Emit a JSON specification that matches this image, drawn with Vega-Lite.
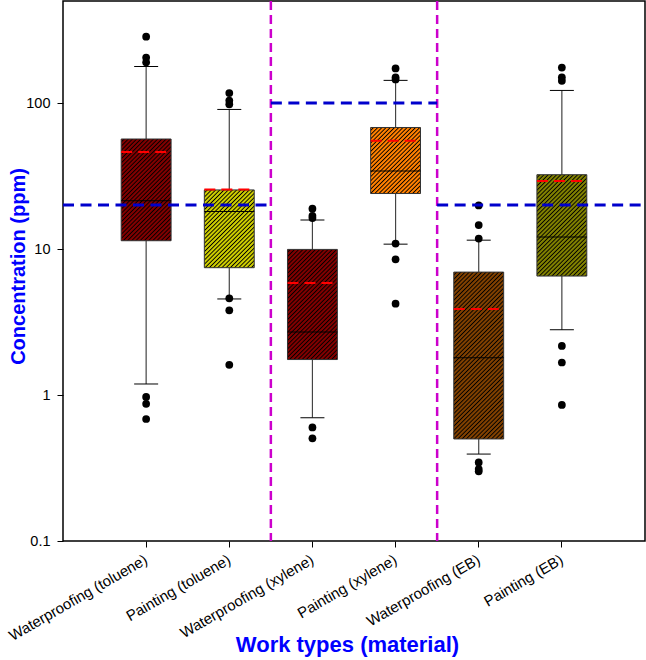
{
  "$schema": "https://vega.github.io/schema/vega-lite/v6.json",
  "width": 582,
  "height": 540,
  "autosize": {"type": "none"},
  "padding": {"left": 63, "top": 1, "right": 1, "bottom": 119},
  "background": "white",
  "config": {
    "font": "Liberation Sans",
    "view": {"stroke": "#000000", "strokeWidth": 1.5}
  },
  "datasets": {
    "boxes": [
      {"work": "Waterproofing (toluene)", "lower": 1.19, "q1": 11.4, "median": 21.4, "q3": 56.7, "upper": 178, "mean": 46.2},
      {"work": "Painting (toluene)", "lower": 4.55, "q1": 7.45, "median": 18.1, "q3": 25.4, "upper": 90.4, "mean": 25.6},
      {"work": "Waterproofing (xylene)", "lower": 0.70, "q1": 1.75, "median": 2.7, "q3": 9.94, "upper": 15.8, "mean": 5.85},
      {"work": "Painting (xylene)", "lower": 10.8, "q1": 24.0, "median": 34.2, "q3": 68, "upper": 143, "mean": 55.2},
      {"work": "Waterproofing (EB)", "lower": 0.394, "q1": 0.50, "median": 1.80, "q3": 6.95, "upper": 11.5, "mean": 3.88},
      {"work": "Painting (EB)", "lower": 2.80, "q1": 6.53, "median": 12.1, "q3": 32.3, "upper": 122, "mean": 29.2}
    ],
    "outliers": [
      {"work": "Waterproofing (toluene)", "value": 285},
      {"work": "Waterproofing (toluene)", "value": 205},
      {"work": "Waterproofing (toluene)", "value": 190},
      {"work": "Waterproofing (toluene)", "value": 0.97},
      {"work": "Waterproofing (toluene)", "value": 0.87},
      {"work": "Waterproofing (toluene)", "value": 0.685},
      {"work": "Painting (toluene)", "value": 117},
      {"work": "Painting (toluene)", "value": 104},
      {"work": "Painting (toluene)", "value": 98},
      {"work": "Painting (toluene)", "value": 4.6},
      {"work": "Painting (toluene)", "value": 3.8},
      {"work": "Painting (toluene)", "value": 1.61},
      {"work": "Waterproofing (xylene)", "value": 18.9},
      {"work": "Waterproofing (xylene)", "value": 16.9},
      {"work": "Waterproofing (xylene)", "value": 16.3},
      {"work": "Waterproofing (xylene)", "value": 0.60},
      {"work": "Waterproofing (xylene)", "value": 0.505},
      {"work": "Painting (xylene)", "value": 172.5},
      {"work": "Painting (xylene)", "value": 150},
      {"work": "Painting (xylene)", "value": 145},
      {"work": "Painting (xylene)", "value": 10.9},
      {"work": "Painting (xylene)", "value": 8.5},
      {"work": "Painting (xylene)", "value": 4.22},
      {"work": "Waterproofing (EB)", "value": 19.9},
      {"work": "Waterproofing (EB)", "value": 14.6},
      {"work": "Waterproofing (EB)", "value": 11.8},
      {"work": "Waterproofing (EB)", "value": 0.345},
      {"work": "Waterproofing (EB)", "value": 0.311},
      {"work": "Waterproofing (EB)", "value": 0.30},
      {"work": "Painting (EB)", "value": 175},
      {"work": "Painting (EB)", "value": 150},
      {"work": "Painting (EB)", "value": 142},
      {"work": "Painting (EB)", "value": 2.17},
      {"work": "Painting (EB)", "value": 1.67},
      {"work": "Painting (EB)", "value": 0.855}
    ],
    "dividers": [
      {"work": "Painting (toluene)"},
      {"work": "Painting (xylene)"}
    ]
  },
  "layer": [
    {
      "data": {"name": "boxes"},
      "mark": {"type": "rule", "color": "#444444", "strokeWidth": 1.2},
      "encoding": {
        "x": {
          "field": "work", "type": "nominal", "sort": null,
          "scale": {"domain": ["Waterproofing (toluene)", "Painting (toluene)", "Waterproofing (xylene)", "Painting (xylene)", "Waterproofing (EB)", "Painting (EB)"], "paddingInner": 0, "paddingOuter": 0.5},
          "axis": {
            "title": "Work types (material)",
            "titleFontSize": 22, "titleFontWeight": "bold", "titleColor": "#0000FF",
            "titleX": 284, "titleY": 93, "titleBaseline": "top",
            "labelAngle": -30, "labelAlign": "right", "labelBaseline": "middle",
            "labelFontSize": 15, "labelColor": "#000000", "labelPadding": 11,
            "tickSize": 6, "tickColor": "#000000", "tickWidth": 1,
            "domain": false, "grid": false
          }
        },
        "y": {
          "field": "lower", "type": "quantitative",
          "scale": {"type": "log", "domain": [0.1, 500], "nice": false, "zero": false},
          "axis": {
            "title": "Concentration (ppm)",
            "titleFontSize": 20, "titleFontWeight": "bold", "titleColor": "#0000FF",
            "titleX": -35, "titleY": 265,
            "values": [0.1, 1, 10, 100], "format": "~g",
            "labelFontSize": 14.5, "labelColor": "#000000", "labelPadding": 7,
            "tickSize": 6, "tickColor": "#000000", "tickWidth": 1,
            "domain": false, "grid": false
          }
        },
        "y2": {"field": "upper"}
      }
    },
    {
      "data": {"name": "boxes"},
      "mark": {"type": "tick", "color": "#000000", "size": 24, "thickness": 1, "opacity": 1},
      "encoding": {
        "x": {"field": "work", "type": "nominal"},
        "y": {"field": "upper", "type": "quantitative"}
      }
    },
    {
      "data": {"name": "boxes"},
      "mark": {"type": "tick", "color": "#000000", "size": 24, "thickness": 1, "opacity": 1},
      "encoding": {
        "x": {"field": "work", "type": "nominal"},
        "y": {"field": "lower", "type": "quantitative"}
      }
    },
    {
      "data": {"name": "boxes"},
      "transform": [{"filter": "datum.work === 'Waterproofing (toluene)'"}],
      "mark": {"type": "bar", "width": {"band": 0.6}, "stroke": "#333333", "strokeWidth": 1,
        "fill": {"gradient": "linear", "x1": 0, "y1": 0, "x2": 0.84894, "y2": 1.73086, "stops": [
          {"offset":0,"color":"#800000"},{"offset":0.00769,"color":"#800000"},{"offset":0.01346,"color":"#000"},
          {"offset":0.01923,"color":"#800000"},{"offset":0.02692,"color":"#800000"},{"offset":0.03269,"color":"#000"},
          {"offset":0.03846,"color":"#800000"},{"offset":0.04615,"color":"#800000"},{"offset":0.05192,"color":"#000"},
          {"offset":0.05769,"color":"#800000"},{"offset":0.06538,"color":"#800000"},{"offset":0.07115,"color":"#000"},
          {"offset":0.07692,"color":"#800000"},{"offset":0.08462,"color":"#800000"},{"offset":0.09038,"color":"#000"},
          {"offset":0.09615,"color":"#800000"},{"offset":0.10385,"color":"#800000"},{"offset":0.10962,"color":"#000"},
          {"offset":0.11538,"color":"#800000"},{"offset":0.12308,"color":"#800000"},{"offset":0.12885,"color":"#000"},
          {"offset":0.13462,"color":"#800000"},{"offset":0.14231,"color":"#800000"},{"offset":0.14808,"color":"#000"},
          {"offset":0.15385,"color":"#800000"},{"offset":0.16154,"color":"#800000"},{"offset":0.16731,"color":"#000"},
          {"offset":0.17308,"color":"#800000"},{"offset":0.18077,"color":"#800000"},{"offset":0.18654,"color":"#000"},
          {"offset":0.19231,"color":"#800000"},{"offset":0.2,"color":"#800000"},{"offset":0.20577,"color":"#000"},
          {"offset":0.21154,"color":"#800000"},{"offset":0.21923,"color":"#800000"},{"offset":0.225,"color":"#000"},
          {"offset":0.23077,"color":"#800000"},{"offset":0.23846,"color":"#800000"},{"offset":0.24423,"color":"#000"},
          {"offset":0.25,"color":"#800000"},{"offset":0.25769,"color":"#800000"},{"offset":0.26346,"color":"#000"},
          {"offset":0.26923,"color":"#800000"},{"offset":0.27692,"color":"#800000"},{"offset":0.28269,"color":"#000"},
          {"offset":0.28846,"color":"#800000"},{"offset":0.29615,"color":"#800000"},{"offset":0.30192,"color":"#000"},
          {"offset":0.30769,"color":"#800000"},{"offset":0.31538,"color":"#800000"},{"offset":0.32115,"color":"#000"},
          {"offset":0.32692,"color":"#800000"},{"offset":0.33462,"color":"#800000"},{"offset":0.34038,"color":"#000"},
          {"offset":0.34615,"color":"#800000"},{"offset":0.35385,"color":"#800000"},{"offset":0.35962,"color":"#000"},
          {"offset":0.36538,"color":"#800000"},{"offset":0.37308,"color":"#800000"},{"offset":0.37885,"color":"#000"},
          {"offset":0.38462,"color":"#800000"},{"offset":0.39231,"color":"#800000"},{"offset":0.39808,"color":"#000"},
          {"offset":0.40385,"color":"#800000"},{"offset":0.41154,"color":"#800000"},{"offset":0.41731,"color":"#000"},
          {"offset":0.42308,"color":"#800000"},{"offset":0.43077,"color":"#800000"},{"offset":0.43654,"color":"#000"},
          {"offset":0.44231,"color":"#800000"},{"offset":0.45,"color":"#800000"},{"offset":0.45577,"color":"#000"},
          {"offset":0.46154,"color":"#800000"},{"offset":0.46923,"color":"#800000"},{"offset":0.475,"color":"#000"},
          {"offset":0.48077,"color":"#800000"},{"offset":0.48846,"color":"#800000"},{"offset":0.49423,"color":"#000"},
          {"offset":0.5,"color":"#800000"},{"offset":0.50769,"color":"#800000"},{"offset":0.51346,"color":"#000"},
          {"offset":0.51923,"color":"#800000"},{"offset":0.52692,"color":"#800000"},{"offset":0.53269,"color":"#000"},
          {"offset":0.53846,"color":"#800000"},{"offset":0.54615,"color":"#800000"},{"offset":0.55192,"color":"#000"},
          {"offset":0.55769,"color":"#800000"},{"offset":0.56538,"color":"#800000"},{"offset":0.57115,"color":"#000"},
          {"offset":0.57692,"color":"#800000"},{"offset":0.58462,"color":"#800000"},{"offset":0.59038,"color":"#000"},
          {"offset":0.59615,"color":"#800000"},{"offset":0.60385,"color":"#800000"},{"offset":0.60962,"color":"#000"},
          {"offset":0.61538,"color":"#800000"},{"offset":0.62308,"color":"#800000"},{"offset":0.62885,"color":"#000"},
          {"offset":0.63462,"color":"#800000"},{"offset":0.64231,"color":"#800000"},{"offset":0.64808,"color":"#000"},
          {"offset":0.65385,"color":"#800000"},{"offset":0.66154,"color":"#800000"},{"offset":0.66731,"color":"#000"},
          {"offset":0.67308,"color":"#800000"},{"offset":0.68077,"color":"#800000"},{"offset":0.68654,"color":"#000"},
          {"offset":0.69231,"color":"#800000"},{"offset":0.7,"color":"#800000"},{"offset":0.70577,"color":"#000"},
          {"offset":0.71154,"color":"#800000"}
        ]}
      },
      "encoding": {
        "x": {"field": "work", "type": "nominal"},
        "y": {"field": "q1", "type": "quantitative"},
        "y2": {"field": "q3"}
      }
    },
    {
      "data": {"name": "boxes"},
      "transform": [{"filter": "datum.work === 'Painting (toluene)'"}],
      "mark": {"type": "bar", "width": {"band": 0.6}, "stroke": "#333333", "strokeWidth": 1,
        "fill": {"gradient": "linear", "x1": 0, "y1": 0, "x2": 1.27645, "y2": 1.98967, "stops": [
          {"offset":0,"color":"#CCCC00"},{"offset":0.00769,"color":"#CCCC00"},{"offset":0.01346,"color":"#000"},
          {"offset":0.01923,"color":"#CCCC00"},{"offset":0.02692,"color":"#CCCC00"},{"offset":0.03269,"color":"#000"},
          {"offset":0.03846,"color":"#CCCC00"},{"offset":0.04615,"color":"#CCCC00"},{"offset":0.05192,"color":"#000"},
          {"offset":0.05769,"color":"#CCCC00"},{"offset":0.06538,"color":"#CCCC00"},{"offset":0.07115,"color":"#000"},
          {"offset":0.07692,"color":"#CCCC00"},{"offset":0.08462,"color":"#CCCC00"},{"offset":0.09038,"color":"#000"},
          {"offset":0.09615,"color":"#CCCC00"},{"offset":0.10385,"color":"#CCCC00"},{"offset":0.10962,"color":"#000"},
          {"offset":0.11538,"color":"#CCCC00"},{"offset":0.12308,"color":"#CCCC00"},{"offset":0.12885,"color":"#000"},
          {"offset":0.13462,"color":"#CCCC00"},{"offset":0.14231,"color":"#CCCC00"},{"offset":0.14808,"color":"#000"},
          {"offset":0.15385,"color":"#CCCC00"},{"offset":0.16154,"color":"#CCCC00"},{"offset":0.16731,"color":"#000"},
          {"offset":0.17308,"color":"#CCCC00"},{"offset":0.18077,"color":"#CCCC00"},{"offset":0.18654,"color":"#000"},
          {"offset":0.19231,"color":"#CCCC00"},{"offset":0.2,"color":"#CCCC00"},{"offset":0.20577,"color":"#000"},
          {"offset":0.21154,"color":"#CCCC00"},{"offset":0.21923,"color":"#CCCC00"},{"offset":0.225,"color":"#000"},
          {"offset":0.23077,"color":"#CCCC00"},{"offset":0.23846,"color":"#CCCC00"},{"offset":0.24423,"color":"#000"},
          {"offset":0.25,"color":"#CCCC00"},{"offset":0.25769,"color":"#CCCC00"},{"offset":0.26346,"color":"#000"},
          {"offset":0.26923,"color":"#CCCC00"},{"offset":0.27692,"color":"#CCCC00"},{"offset":0.28269,"color":"#000"},
          {"offset":0.28846,"color":"#CCCC00"},{"offset":0.29615,"color":"#CCCC00"},{"offset":0.30192,"color":"#000"},
          {"offset":0.30769,"color":"#CCCC00"},{"offset":0.31538,"color":"#CCCC00"},{"offset":0.32115,"color":"#000"},
          {"offset":0.32692,"color":"#CCCC00"},{"offset":0.33462,"color":"#CCCC00"},{"offset":0.34038,"color":"#000"},
          {"offset":0.34615,"color":"#CCCC00"},{"offset":0.35385,"color":"#CCCC00"},{"offset":0.35962,"color":"#000"},
          {"offset":0.36538,"color":"#CCCC00"},{"offset":0.37308,"color":"#CCCC00"},{"offset":0.37885,"color":"#000"},
          {"offset":0.38462,"color":"#CCCC00"},{"offset":0.39231,"color":"#CCCC00"},{"offset":0.39808,"color":"#000"},
          {"offset":0.40385,"color":"#CCCC00"},{"offset":0.41154,"color":"#CCCC00"},{"offset":0.41731,"color":"#000"},
          {"offset":0.42308,"color":"#CCCC00"},{"offset":0.43077,"color":"#CCCC00"},{"offset":0.43654,"color":"#000"},
          {"offset":0.44231,"color":"#CCCC00"},{"offset":0.45,"color":"#CCCC00"},{"offset":0.45577,"color":"#000"},
          {"offset":0.46154,"color":"#CCCC00"},{"offset":0.46923,"color":"#CCCC00"},{"offset":0.475,"color":"#000"},
          {"offset":0.48077,"color":"#CCCC00"},{"offset":0.48846,"color":"#CCCC00"},{"offset":0.49423,"color":"#000"},
          {"offset":0.5,"color":"#CCCC00"},{"offset":0.50769,"color":"#CCCC00"},{"offset":0.51346,"color":"#000"},
          {"offset":0.51923,"color":"#CCCC00"},{"offset":0.52692,"color":"#CCCC00"},{"offset":0.53269,"color":"#000"},
          {"offset":0.53846,"color":"#CCCC00"},{"offset":0.54615,"color":"#CCCC00"},{"offset":0.55192,"color":"#000"},
          {"offset":0.55769,"color":"#CCCC00"},{"offset":0.56538,"color":"#CCCC00"},{"offset":0.57115,"color":"#000"},
          {"offset":0.57692,"color":"#CCCC00"},{"offset":0.58462,"color":"#CCCC00"},{"offset":0.59038,"color":"#000"},
          {"offset":0.59615,"color":"#CCCC00"}
        ]}
      },
      "encoding": {
        "x": {"field": "work", "type": "nominal"},
        "y": {"field": "q1", "type": "quantitative"},
        "y2": {"field": "q3"}
      }
    },
    {
      "data": {"name": "boxes"},
      "transform": [{"filter": "datum.work === 'Waterproofing (xylene)'"}],
      "mark": {"type": "bar", "width": {"band": 0.6}, "stroke": "#333333", "strokeWidth": 1,
        "fill": {"gradient": "linear", "x1": 0, "y1": 0, "x2": 0.74546, "y2": 1.64555, "stops": [
          {"offset":0,"color":"#800000"},{"offset":0.00769,"color":"#800000"},{"offset":0.01346,"color":"#000"},
          {"offset":0.01923,"color":"#800000"},{"offset":0.02692,"color":"#800000"},{"offset":0.03269,"color":"#000"},
          {"offset":0.03846,"color":"#800000"},{"offset":0.04615,"color":"#800000"},{"offset":0.05192,"color":"#000"},
          {"offset":0.05769,"color":"#800000"},{"offset":0.06538,"color":"#800000"},{"offset":0.07115,"color":"#000"},
          {"offset":0.07692,"color":"#800000"},{"offset":0.08462,"color":"#800000"},{"offset":0.09038,"color":"#000"},
          {"offset":0.09615,"color":"#800000"},{"offset":0.10385,"color":"#800000"},{"offset":0.10962,"color":"#000"},
          {"offset":0.11538,"color":"#800000"},{"offset":0.12308,"color":"#800000"},{"offset":0.12885,"color":"#000"},
          {"offset":0.13462,"color":"#800000"},{"offset":0.14231,"color":"#800000"},{"offset":0.14808,"color":"#000"},
          {"offset":0.15385,"color":"#800000"},{"offset":0.16154,"color":"#800000"},{"offset":0.16731,"color":"#000"},
          {"offset":0.17308,"color":"#800000"},{"offset":0.18077,"color":"#800000"},{"offset":0.18654,"color":"#000"},
          {"offset":0.19231,"color":"#800000"},{"offset":0.2,"color":"#800000"},{"offset":0.20577,"color":"#000"},
          {"offset":0.21154,"color":"#800000"},{"offset":0.21923,"color":"#800000"},{"offset":0.225,"color":"#000"},
          {"offset":0.23077,"color":"#800000"},{"offset":0.23846,"color":"#800000"},{"offset":0.24423,"color":"#000"},
          {"offset":0.25,"color":"#800000"},{"offset":0.25769,"color":"#800000"},{"offset":0.26346,"color":"#000"},
          {"offset":0.26923,"color":"#800000"},{"offset":0.27692,"color":"#800000"},{"offset":0.28269,"color":"#000"},
          {"offset":0.28846,"color":"#800000"},{"offset":0.29615,"color":"#800000"},{"offset":0.30192,"color":"#000"},
          {"offset":0.30769,"color":"#800000"},{"offset":0.31538,"color":"#800000"},{"offset":0.32115,"color":"#000"},
          {"offset":0.32692,"color":"#800000"},{"offset":0.33462,"color":"#800000"},{"offset":0.34038,"color":"#000"},
          {"offset":0.34615,"color":"#800000"},{"offset":0.35385,"color":"#800000"},{"offset":0.35962,"color":"#000"},
          {"offset":0.36538,"color":"#800000"},{"offset":0.37308,"color":"#800000"},{"offset":0.37885,"color":"#000"},
          {"offset":0.38462,"color":"#800000"},{"offset":0.39231,"color":"#800000"},{"offset":0.39808,"color":"#000"},
          {"offset":0.40385,"color":"#800000"},{"offset":0.41154,"color":"#800000"},{"offset":0.41731,"color":"#000"},
          {"offset":0.42308,"color":"#800000"},{"offset":0.43077,"color":"#800000"},{"offset":0.43654,"color":"#000"},
          {"offset":0.44231,"color":"#800000"},{"offset":0.45,"color":"#800000"},{"offset":0.45577,"color":"#000"},
          {"offset":0.46154,"color":"#800000"},{"offset":0.46923,"color":"#800000"},{"offset":0.475,"color":"#000"},
          {"offset":0.48077,"color":"#800000"},{"offset":0.48846,"color":"#800000"},{"offset":0.49423,"color":"#000"},
          {"offset":0.5,"color":"#800000"},{"offset":0.50769,"color":"#800000"},{"offset":0.51346,"color":"#000"},
          {"offset":0.51923,"color":"#800000"},{"offset":0.52692,"color":"#800000"},{"offset":0.53269,"color":"#000"},
          {"offset":0.53846,"color":"#800000"},{"offset":0.54615,"color":"#800000"},{"offset":0.55192,"color":"#000"},
          {"offset":0.55769,"color":"#800000"},{"offset":0.56538,"color":"#800000"},{"offset":0.57115,"color":"#000"},
          {"offset":0.57692,"color":"#800000"},{"offset":0.58462,"color":"#800000"},{"offset":0.59038,"color":"#000"},
          {"offset":0.59615,"color":"#800000"},{"offset":0.60385,"color":"#800000"},{"offset":0.60962,"color":"#000"},
          {"offset":0.61538,"color":"#800000"},{"offset":0.62308,"color":"#800000"},{"offset":0.62885,"color":"#000"},
          {"offset":0.63462,"color":"#800000"},{"offset":0.64231,"color":"#800000"},{"offset":0.64808,"color":"#000"},
          {"offset":0.65385,"color":"#800000"},{"offset":0.66154,"color":"#800000"},{"offset":0.66731,"color":"#000"},
          {"offset":0.67308,"color":"#800000"},{"offset":0.68077,"color":"#800000"},{"offset":0.68654,"color":"#000"},
          {"offset":0.69231,"color":"#800000"},{"offset":0.7,"color":"#800000"},{"offset":0.70577,"color":"#000"},
          {"offset":0.71154,"color":"#800000"},{"offset":0.71923,"color":"#800000"},{"offset":0.725,"color":"#000"},
          {"offset":0.73077,"color":"#800000"},{"offset":0.73846,"color":"#800000"},{"offset":0.74423,"color":"#000"},
          {"offset":0.75,"color":"#800000"}
        ]}
      },
      "encoding": {
        "x": {"field": "work", "type": "nominal"},
        "y": {"field": "q1", "type": "quantitative"},
        "y2": {"field": "q3"}
      }
    },
    {
      "data": {"name": "boxes"},
      "transform": [{"filter": "datum.work === 'Painting (xylene)'"}],
      "mark": {"type": "bar", "width": {"band": 0.6}, "stroke": "#333333", "strokeWidth": 1,
        "fill": {"gradient": "linear", "x1": 0, "y1": 0, "x2": 1.59078, "y2": 2.10559, "stops": [
          {"offset":0,"color":"#FF8000"},{"offset":0.00769,"color":"#FF8000"},{"offset":0.01346,"color":"#000"},
          {"offset":0.01923,"color":"#FF8000"},{"offset":0.02692,"color":"#FF8000"},{"offset":0.03269,"color":"#000"},
          {"offset":0.03846,"color":"#FF8000"},{"offset":0.04615,"color":"#FF8000"},{"offset":0.05192,"color":"#000"},
          {"offset":0.05769,"color":"#FF8000"},{"offset":0.06538,"color":"#FF8000"},{"offset":0.07115,"color":"#000"},
          {"offset":0.07692,"color":"#FF8000"},{"offset":0.08462,"color":"#FF8000"},{"offset":0.09038,"color":"#000"},
          {"offset":0.09615,"color":"#FF8000"},{"offset":0.10385,"color":"#FF8000"},{"offset":0.10962,"color":"#000"},
          {"offset":0.11538,"color":"#FF8000"},{"offset":0.12308,"color":"#FF8000"},{"offset":0.12885,"color":"#000"},
          {"offset":0.13462,"color":"#FF8000"},{"offset":0.14231,"color":"#FF8000"},{"offset":0.14808,"color":"#000"},
          {"offset":0.15385,"color":"#FF8000"},{"offset":0.16154,"color":"#FF8000"},{"offset":0.16731,"color":"#000"},
          {"offset":0.17308,"color":"#FF8000"},{"offset":0.18077,"color":"#FF8000"},{"offset":0.18654,"color":"#000"},
          {"offset":0.19231,"color":"#FF8000"},{"offset":0.2,"color":"#FF8000"},{"offset":0.20577,"color":"#000"},
          {"offset":0.21154,"color":"#FF8000"},{"offset":0.21923,"color":"#FF8000"},{"offset":0.225,"color":"#000"},
          {"offset":0.23077,"color":"#FF8000"},{"offset":0.23846,"color":"#FF8000"},{"offset":0.24423,"color":"#000"},
          {"offset":0.25,"color":"#FF8000"},{"offset":0.25769,"color":"#FF8000"},{"offset":0.26346,"color":"#000"},
          {"offset":0.26923,"color":"#FF8000"},{"offset":0.27692,"color":"#FF8000"},{"offset":0.28269,"color":"#000"},
          {"offset":0.28846,"color":"#FF8000"},{"offset":0.29615,"color":"#FF8000"},{"offset":0.30192,"color":"#000"},
          {"offset":0.30769,"color":"#FF8000"},{"offset":0.31538,"color":"#FF8000"},{"offset":0.32115,"color":"#000"},
          {"offset":0.32692,"color":"#FF8000"},{"offset":0.33462,"color":"#FF8000"},{"offset":0.34038,"color":"#000"},
          {"offset":0.34615,"color":"#FF8000"},{"offset":0.35385,"color":"#FF8000"},{"offset":0.35962,"color":"#000"},
          {"offset":0.36538,"color":"#FF8000"},{"offset":0.37308,"color":"#FF8000"},{"offset":0.37885,"color":"#000"},
          {"offset":0.38462,"color":"#FF8000"},{"offset":0.39231,"color":"#FF8000"},{"offset":0.39808,"color":"#000"},
          {"offset":0.40385,"color":"#FF8000"},{"offset":0.41154,"color":"#FF8000"},{"offset":0.41731,"color":"#000"},
          {"offset":0.42308,"color":"#FF8000"},{"offset":0.43077,"color":"#FF8000"},{"offset":0.43654,"color":"#000"},
          {"offset":0.44231,"color":"#FF8000"},{"offset":0.45,"color":"#FF8000"},{"offset":0.45577,"color":"#000"},
          {"offset":0.46154,"color":"#FF8000"},{"offset":0.46923,"color":"#FF8000"},{"offset":0.475,"color":"#000"},
          {"offset":0.48077,"color":"#FF8000"},{"offset":0.48846,"color":"#FF8000"},{"offset":0.49423,"color":"#000"},
          {"offset":0.5,"color":"#FF8000"},{"offset":0.50769,"color":"#FF8000"},{"offset":0.51346,"color":"#000"},
          {"offset":0.51923,"color":"#FF8000"},{"offset":0.52692,"color":"#FF8000"},{"offset":0.53269,"color":"#000"},
          {"offset":0.53846,"color":"#FF8000"}
        ]}
      },
      "encoding": {
        "x": {"field": "work", "type": "nominal"},
        "y": {"field": "q1", "type": "quantitative"},
        "y2": {"field": "q3"}
      }
    },
    {
      "data": {"name": "boxes"},
      "transform": [{"filter": "datum.work === 'Waterproofing (EB)'"}],
      "mark": {"type": "bar", "width": {"band": 0.6}, "stroke": "#333333", "strokeWidth": 1,
        "fill": {"gradient": "linear", "x1": 0, "y1": 0, "x2": 0.35920, "y2": 1.20148, "stops": [
          {"offset":0,"color":"#804000"},{"offset":0.00769,"color":"#804000"},{"offset":0.01346,"color":"#000"},
          {"offset":0.01923,"color":"#804000"},{"offset":0.02692,"color":"#804000"},{"offset":0.03269,"color":"#000"},
          {"offset":0.03846,"color":"#804000"},{"offset":0.04615,"color":"#804000"},{"offset":0.05192,"color":"#000"},
          {"offset":0.05769,"color":"#804000"},{"offset":0.06538,"color":"#804000"},{"offset":0.07115,"color":"#000"},
          {"offset":0.07692,"color":"#804000"},{"offset":0.08462,"color":"#804000"},{"offset":0.09038,"color":"#000"},
          {"offset":0.09615,"color":"#804000"},{"offset":0.10385,"color":"#804000"},{"offset":0.10962,"color":"#000"},
          {"offset":0.11538,"color":"#804000"},{"offset":0.12308,"color":"#804000"},{"offset":0.12885,"color":"#000"},
          {"offset":0.13462,"color":"#804000"},{"offset":0.14231,"color":"#804000"},{"offset":0.14808,"color":"#000"},
          {"offset":0.15385,"color":"#804000"},{"offset":0.16154,"color":"#804000"},{"offset":0.16731,"color":"#000"},
          {"offset":0.17308,"color":"#804000"},{"offset":0.18077,"color":"#804000"},{"offset":0.18654,"color":"#000"},
          {"offset":0.19231,"color":"#804000"},{"offset":0.2,"color":"#804000"},{"offset":0.20577,"color":"#000"},
          {"offset":0.21154,"color":"#804000"},{"offset":0.21923,"color":"#804000"},{"offset":0.225,"color":"#000"},
          {"offset":0.23077,"color":"#804000"},{"offset":0.23846,"color":"#804000"},{"offset":0.24423,"color":"#000"},
          {"offset":0.25,"color":"#804000"},{"offset":0.25769,"color":"#804000"},{"offset":0.26346,"color":"#000"},
          {"offset":0.26923,"color":"#804000"},{"offset":0.27692,"color":"#804000"},{"offset":0.28269,"color":"#000"},
          {"offset":0.28846,"color":"#804000"},{"offset":0.29615,"color":"#804000"},{"offset":0.30192,"color":"#000"},
          {"offset":0.30769,"color":"#804000"},{"offset":0.31538,"color":"#804000"},{"offset":0.32115,"color":"#000"},
          {"offset":0.32692,"color":"#804000"},{"offset":0.33462,"color":"#804000"},{"offset":0.34038,"color":"#000"},
          {"offset":0.34615,"color":"#804000"},{"offset":0.35385,"color":"#804000"},{"offset":0.35962,"color":"#000"},
          {"offset":0.36538,"color":"#804000"},{"offset":0.37308,"color":"#804000"},{"offset":0.37885,"color":"#000"},
          {"offset":0.38462,"color":"#804000"},{"offset":0.39231,"color":"#804000"},{"offset":0.39808,"color":"#000"},
          {"offset":0.40385,"color":"#804000"},{"offset":0.41154,"color":"#804000"},{"offset":0.41731,"color":"#000"},
          {"offset":0.42308,"color":"#804000"},{"offset":0.43077,"color":"#804000"},{"offset":0.43654,"color":"#000"},
          {"offset":0.44231,"color":"#804000"},{"offset":0.45,"color":"#804000"},{"offset":0.45577,"color":"#000"},
          {"offset":0.46154,"color":"#804000"},{"offset":0.46923,"color":"#804000"},{"offset":0.475,"color":"#000"},
          {"offset":0.48077,"color":"#804000"},{"offset":0.48846,"color":"#804000"},{"offset":0.49423,"color":"#000"},
          {"offset":0.5,"color":"#804000"},{"offset":0.50769,"color":"#804000"},{"offset":0.51346,"color":"#000"},
          {"offset":0.51923,"color":"#804000"},{"offset":0.52692,"color":"#804000"},{"offset":0.53269,"color":"#000"},
          {"offset":0.53846,"color":"#804000"},{"offset":0.54615,"color":"#804000"},{"offset":0.55192,"color":"#000"},
          {"offset":0.55769,"color":"#804000"},{"offset":0.56538,"color":"#804000"},{"offset":0.57115,"color":"#000"},
          {"offset":0.57692,"color":"#804000"},{"offset":0.58462,"color":"#804000"},{"offset":0.59038,"color":"#000"},
          {"offset":0.59615,"color":"#804000"},{"offset":0.60385,"color":"#804000"},{"offset":0.60962,"color":"#000"},
          {"offset":0.61538,"color":"#804000"},{"offset":0.62308,"color":"#804000"},{"offset":0.62885,"color":"#000"},
          {"offset":0.63462,"color":"#804000"},{"offset":0.64231,"color":"#804000"},{"offset":0.64808,"color":"#000"},
          {"offset":0.65385,"color":"#804000"},{"offset":0.66154,"color":"#804000"},{"offset":0.66731,"color":"#000"},
          {"offset":0.67308,"color":"#804000"},{"offset":0.68077,"color":"#804000"},{"offset":0.68654,"color":"#000"},
          {"offset":0.69231,"color":"#804000"},{"offset":0.7,"color":"#804000"},{"offset":0.70577,"color":"#000"},
          {"offset":0.71154,"color":"#804000"},{"offset":0.71923,"color":"#804000"},{"offset":0.725,"color":"#000"},
          {"offset":0.73077,"color":"#804000"},{"offset":0.73846,"color":"#804000"},{"offset":0.74423,"color":"#000"},
          {"offset":0.75,"color":"#804000"},{"offset":0.75769,"color":"#804000"},{"offset":0.76346,"color":"#000"},
          {"offset":0.76923,"color":"#804000"},{"offset":0.77692,"color":"#804000"},{"offset":0.78269,"color":"#000"},
          {"offset":0.78846,"color":"#804000"},{"offset":0.79615,"color":"#804000"},{"offset":0.80192,"color":"#000"},
          {"offset":0.80769,"color":"#804000"},{"offset":0.81538,"color":"#804000"},{"offset":0.82115,"color":"#000"},
          {"offset":0.82692,"color":"#804000"},{"offset":0.83462,"color":"#804000"},{"offset":0.84038,"color":"#000"},
          {"offset":0.84615,"color":"#804000"},{"offset":0.85385,"color":"#804000"},{"offset":0.85962,"color":"#000"},
          {"offset":0.86538,"color":"#804000"},{"offset":0.87308,"color":"#804000"},{"offset":0.87885,"color":"#000"},
          {"offset":0.88462,"color":"#804000"},{"offset":0.89231,"color":"#804000"},{"offset":0.89808,"color":"#000"},
          {"offset":0.90385,"color":"#804000"},{"offset":0.91154,"color":"#804000"},{"offset":0.91731,"color":"#000"},
          {"offset":0.92308,"color":"#804000"},{"offset":0.93077,"color":"#804000"},{"offset":0.93654,"color":"#000"},
          {"offset":0.94231,"color":"#804000"},{"offset":0.95,"color":"#804000"},{"offset":0.95577,"color":"#000"},
          {"offset":0.96154,"color":"#804000"},{"offset":0.96923,"color":"#804000"},{"offset":0.975,"color":"#000"},
          {"offset":0.98077,"color":"#804000"},{"offset":0.98846,"color":"#804000"},{"offset":0.99423,"color":"#000"},
          {"offset":1,"color":"#804000"}
        ]}
      },
      "encoding": {
        "x": {"field": "work", "type": "nominal"},
        "y": {"field": "q1", "type": "quantitative"},
        "y2": {"field": "q3"}
      }
    },
    {
      "data": {"name": "boxes"},
      "transform": [{"filter": "datum.work === 'Painting (EB)'"}],
      "mark": {"type": "bar", "width": {"band": 0.6}, "stroke": "#333333", "strokeWidth": 1,
        "fill": {"gradient": "linear", "x1": 0, "y1": 0, "x2": 0.85367, "y2": 1.73451, "stops": [
          {"offset":0,"color":"#808000"},{"offset":0.00769,"color":"#808000"},{"offset":0.01346,"color":"#000"},
          {"offset":0.01923,"color":"#808000"},{"offset":0.02692,"color":"#808000"},{"offset":0.03269,"color":"#000"},
          {"offset":0.03846,"color":"#808000"},{"offset":0.04615,"color":"#808000"},{"offset":0.05192,"color":"#000"},
          {"offset":0.05769,"color":"#808000"},{"offset":0.06538,"color":"#808000"},{"offset":0.07115,"color":"#000"},
          {"offset":0.07692,"color":"#808000"},{"offset":0.08462,"color":"#808000"},{"offset":0.09038,"color":"#000"},
          {"offset":0.09615,"color":"#808000"},{"offset":0.10385,"color":"#808000"},{"offset":0.10962,"color":"#000"},
          {"offset":0.11538,"color":"#808000"},{"offset":0.12308,"color":"#808000"},{"offset":0.12885,"color":"#000"},
          {"offset":0.13462,"color":"#808000"},{"offset":0.14231,"color":"#808000"},{"offset":0.14808,"color":"#000"},
          {"offset":0.15385,"color":"#808000"},{"offset":0.16154,"color":"#808000"},{"offset":0.16731,"color":"#000"},
          {"offset":0.17308,"color":"#808000"},{"offset":0.18077,"color":"#808000"},{"offset":0.18654,"color":"#000"},
          {"offset":0.19231,"color":"#808000"},{"offset":0.2,"color":"#808000"},{"offset":0.20577,"color":"#000"},
          {"offset":0.21154,"color":"#808000"},{"offset":0.21923,"color":"#808000"},{"offset":0.225,"color":"#000"},
          {"offset":0.23077,"color":"#808000"},{"offset":0.23846,"color":"#808000"},{"offset":0.24423,"color":"#000"},
          {"offset":0.25,"color":"#808000"},{"offset":0.25769,"color":"#808000"},{"offset":0.26346,"color":"#000"},
          {"offset":0.26923,"color":"#808000"},{"offset":0.27692,"color":"#808000"},{"offset":0.28269,"color":"#000"},
          {"offset":0.28846,"color":"#808000"},{"offset":0.29615,"color":"#808000"},{"offset":0.30192,"color":"#000"},
          {"offset":0.30769,"color":"#808000"},{"offset":0.31538,"color":"#808000"},{"offset":0.32115,"color":"#000"},
          {"offset":0.32692,"color":"#808000"},{"offset":0.33462,"color":"#808000"},{"offset":0.34038,"color":"#000"},
          {"offset":0.34615,"color":"#808000"},{"offset":0.35385,"color":"#808000"},{"offset":0.35962,"color":"#000"},
          {"offset":0.36538,"color":"#808000"},{"offset":0.37308,"color":"#808000"},{"offset":0.37885,"color":"#000"},
          {"offset":0.38462,"color":"#808000"},{"offset":0.39231,"color":"#808000"},{"offset":0.39808,"color":"#000"},
          {"offset":0.40385,"color":"#808000"},{"offset":0.41154,"color":"#808000"},{"offset":0.41731,"color":"#000"},
          {"offset":0.42308,"color":"#808000"},{"offset":0.43077,"color":"#808000"},{"offset":0.43654,"color":"#000"},
          {"offset":0.44231,"color":"#808000"},{"offset":0.45,"color":"#808000"},{"offset":0.45577,"color":"#000"},
          {"offset":0.46154,"color":"#808000"},{"offset":0.46923,"color":"#808000"},{"offset":0.475,"color":"#000"},
          {"offset":0.48077,"color":"#808000"},{"offset":0.48846,"color":"#808000"},{"offset":0.49423,"color":"#000"},
          {"offset":0.5,"color":"#808000"},{"offset":0.50769,"color":"#808000"},{"offset":0.51346,"color":"#000"},
          {"offset":0.51923,"color":"#808000"},{"offset":0.52692,"color":"#808000"},{"offset":0.53269,"color":"#000"},
          {"offset":0.53846,"color":"#808000"},{"offset":0.54615,"color":"#808000"},{"offset":0.55192,"color":"#000"},
          {"offset":0.55769,"color":"#808000"},{"offset":0.56538,"color":"#808000"},{"offset":0.57115,"color":"#000"},
          {"offset":0.57692,"color":"#808000"},{"offset":0.58462,"color":"#808000"},{"offset":0.59038,"color":"#000"},
          {"offset":0.59615,"color":"#808000"},{"offset":0.60385,"color":"#808000"},{"offset":0.60962,"color":"#000"},
          {"offset":0.61538,"color":"#808000"},{"offset":0.62308,"color":"#808000"},{"offset":0.62885,"color":"#000"},
          {"offset":0.63462,"color":"#808000"},{"offset":0.64231,"color":"#808000"},{"offset":0.64808,"color":"#000"},
          {"offset":0.65385,"color":"#808000"},{"offset":0.66154,"color":"#808000"},{"offset":0.66731,"color":"#000"},
          {"offset":0.67308,"color":"#808000"},{"offset":0.68077,"color":"#808000"},{"offset":0.68654,"color":"#000"},
          {"offset":0.69231,"color":"#808000"},{"offset":0.7,"color":"#808000"},{"offset":0.70577,"color":"#000"},
          {"offset":0.71154,"color":"#808000"}
        ]}
      },
      "encoding": {
        "x": {"field": "work", "type": "nominal"},
        "y": {"field": "q1", "type": "quantitative"},
        "y2": {"field": "q3"}
      }
    },
    {
      "data": {"name": "boxes"},
      "mark": {"type": "tick", "color": "#000000", "size": 50, "thickness": 1, "opacity": 1},
      "encoding": {
        "x": {"field": "work", "type": "nominal"},
        "y": {"field": "median", "type": "quantitative"}
      }
    },
    {
      "data": {"name": "boxes"},
      "mark": {"type": "rule", "color": "#FF0000", "strokeWidth": 2, "strokeDash": [11, 6]},
      "encoding": {
        "x": {"field": "work", "type": "nominal", "bandPosition": 0.2},
        "x2": {"field": "work", "bandPosition": 0.8},
        "y": {"field": "mean", "type": "quantitative"}
      }
    },
    {
      "data": {"name": "outliers"},
      "mark": {"type": "point", "filled": true, "color": "#000000", "size": 60, "opacity": 1},
      "encoding": {
        "x": {"field": "work", "type": "nominal"},
        "y": {"field": "value", "type": "quantitative"}
      }
    },
    {
      "data": {"name": "dividers"},
      "mark": {"type": "rule", "color": "#CC00CC", "strokeWidth": 2.5, "strokeDash": [9, 5]},
      "encoding": {
        "x": {"field": "work", "type": "nominal", "bandPosition": 1}
      }
    },
    {
      "data": {"values": [{"work": "Waterproofing (toluene)", "work_end": "Painting (toluene)", "limit": 20}]},
      "mark": {"type": "rule", "color": "#0000CC", "strokeWidth": 3, "strokeDash": [11, 6.5]},
      "encoding": {
        "x": {"field": "work", "type": "nominal", "bandPosition": -0.5},
        "x2": {"field": "work_end", "bandPosition": 1},
        "y": {"field": "limit", "type": "quantitative"}
      }
    },
    {
      "data": {"values": [{"work": "Waterproofing (xylene)", "work_end": "Painting (xylene)", "limit": 100}]},
      "mark": {"type": "rule", "color": "#0000CC", "strokeWidth": 3, "strokeDash": [11, 6.5]},
      "encoding": {
        "x": {"field": "work", "type": "nominal", "bandPosition": 0},
        "x2": {"field": "work_end", "bandPosition": 1},
        "y": {"field": "limit", "type": "quantitative"}
      }
    },
    {
      "data": {"values": [{"work": "Waterproofing (EB)", "work_end": "Painting (EB)", "limit": 20}]},
      "mark": {"type": "rule", "color": "#0000CC", "strokeWidth": 3, "strokeDash": [11, 6.5]},
      "encoding": {
        "x": {"field": "work", "type": "nominal", "bandPosition": 0},
        "x2": {"field": "work_end", "bandPosition": 1.5},
        "y": {"field": "limit", "type": "quantitative"}
      }
    }
  ]
}
